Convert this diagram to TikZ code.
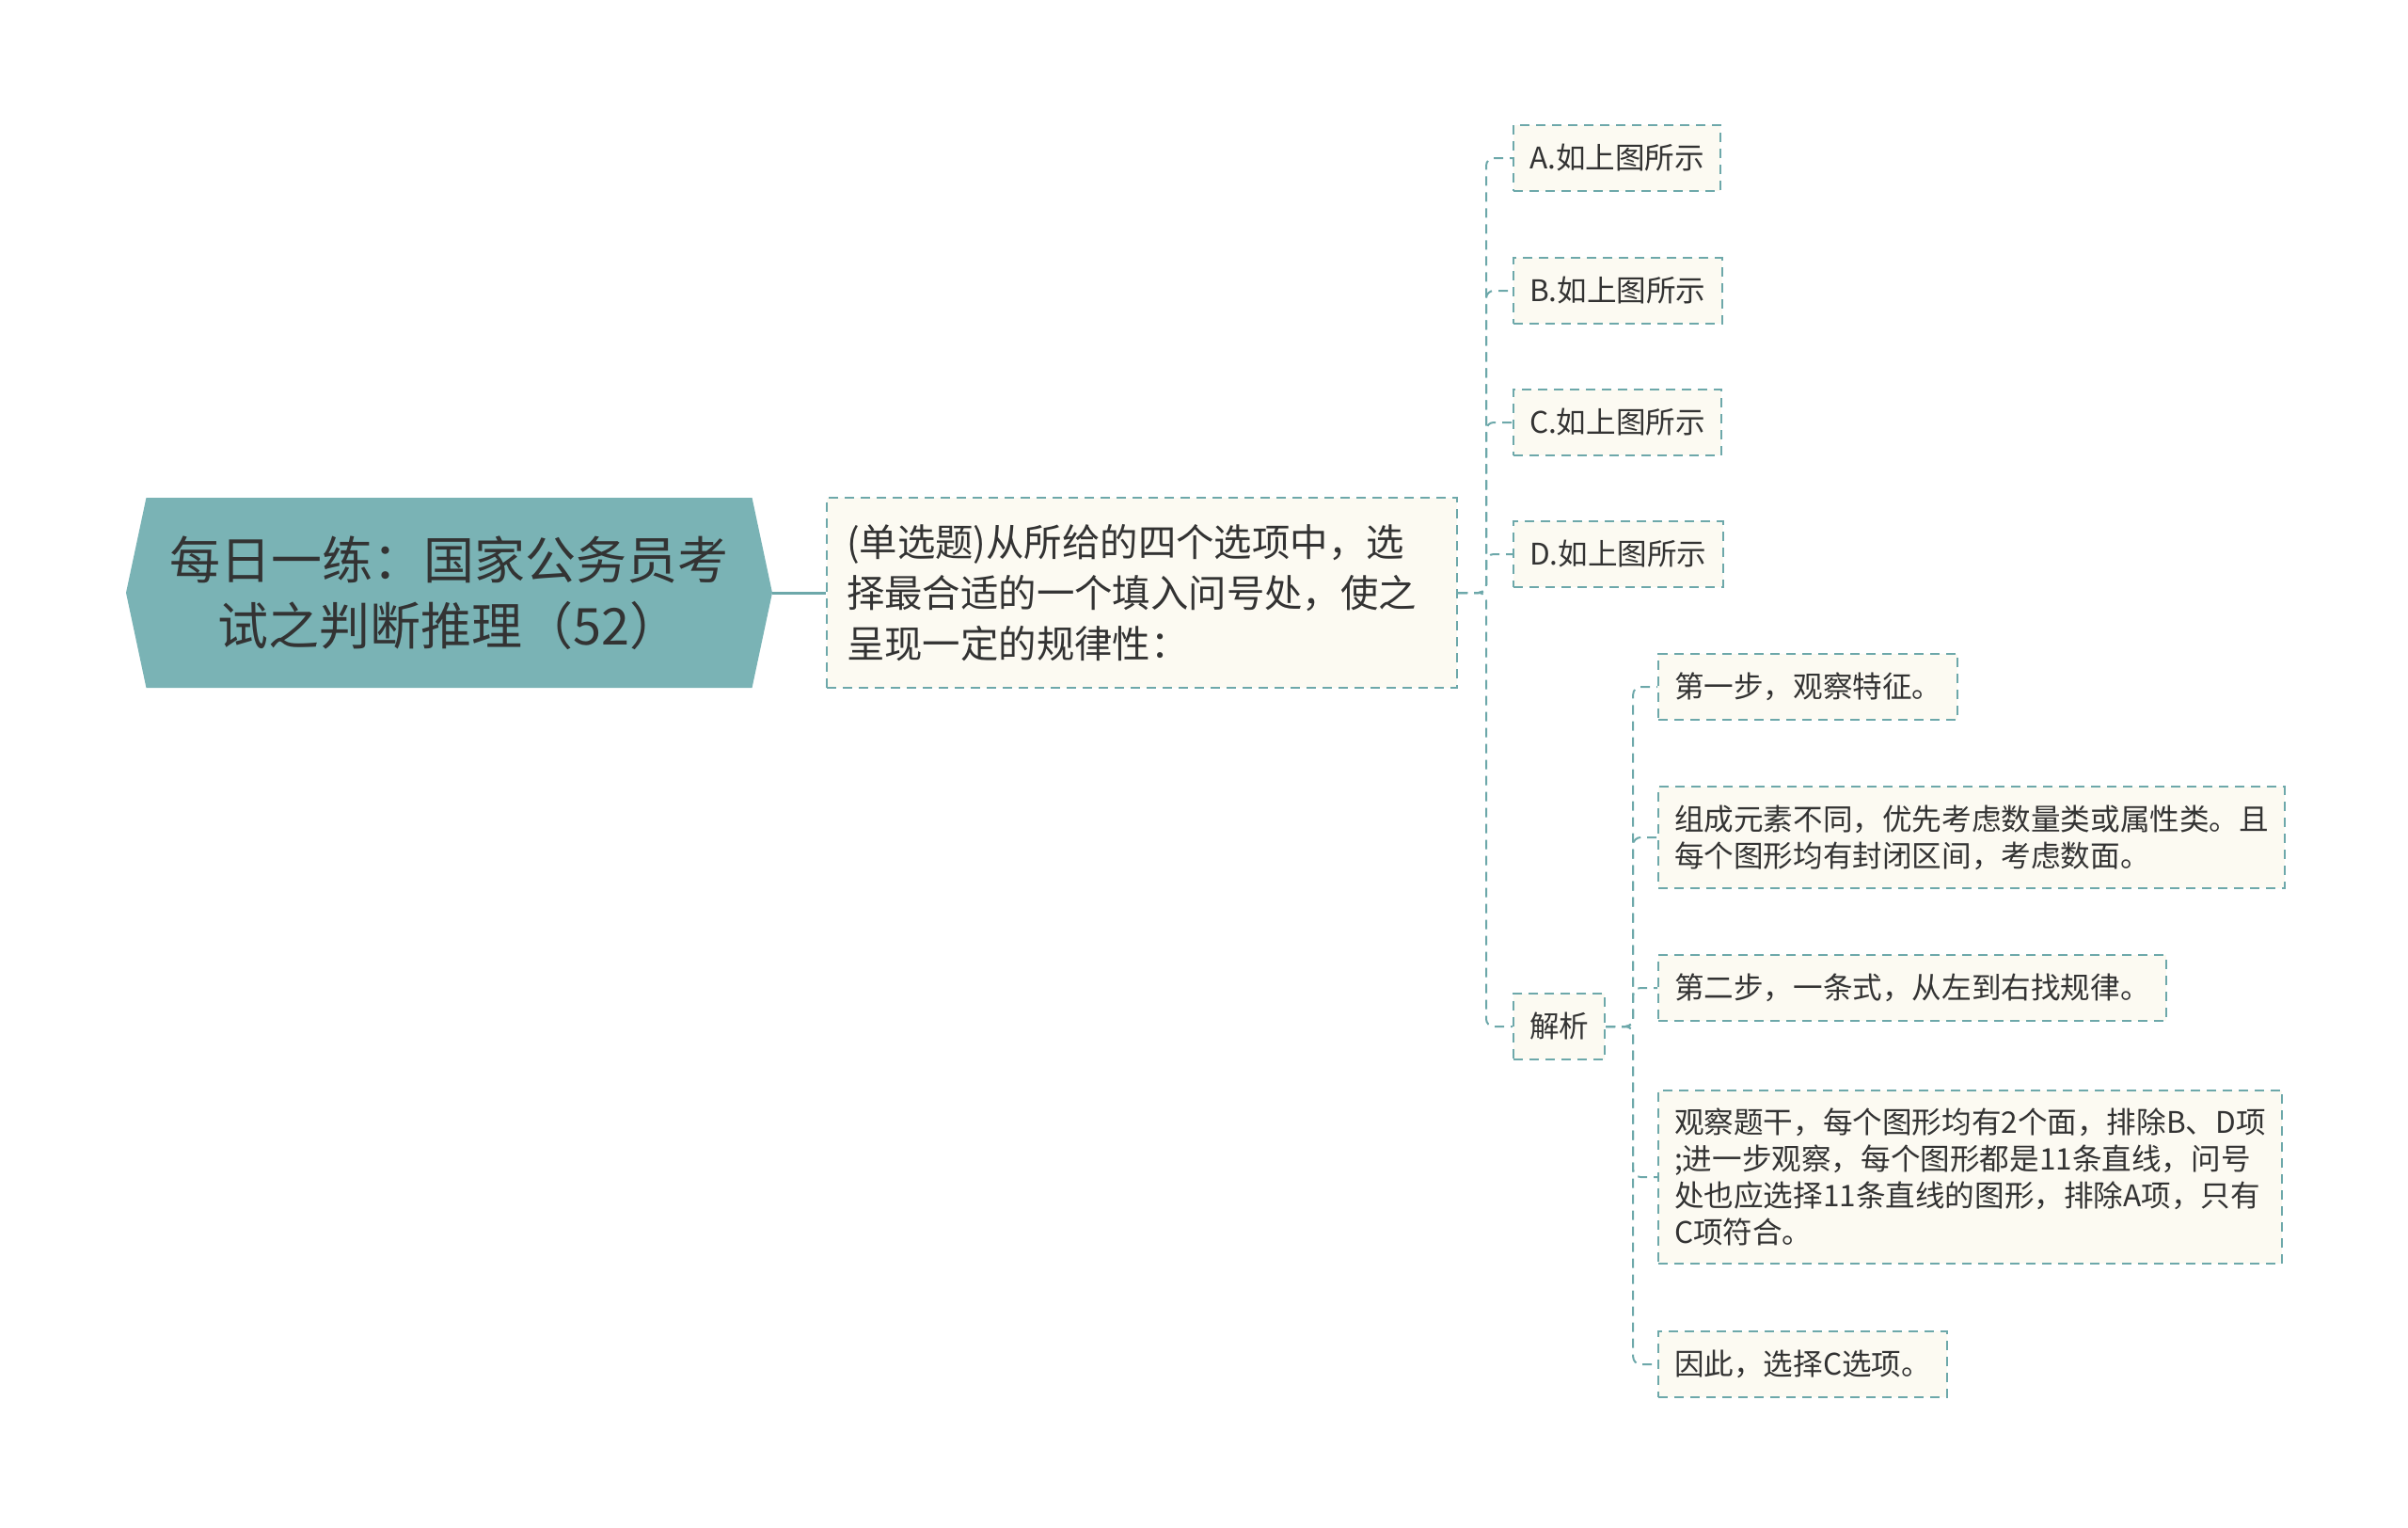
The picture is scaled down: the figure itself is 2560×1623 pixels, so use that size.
\documentclass[tikz,border=0pt]{standalone}
\usepackage{fontspec}
\setmainfont{Noto Sans CJK SC}
\usetikzlibrary{shapes.symbols}

\definecolor{rootcol}{HTML}{7AB3B5}
\definecolor{linecol}{HTML}{6DA8AA}
\definecolor{boxcol}{HTML}{FCFAF2}
\definecolor{textcol}{HTML}{333333}

\begin{document}
\begin{tikzpicture}[x=0.5pt,y=-0.5pt]
	\tikzstyle{root} = [shape=signal, signal to=west and east, signal pointer angle=156, fill=rootcol, text=textcol, align=center, minimum width=343.5pt, minimum height=101pt, inner sep=0pt, font=\fontsize{27}{35}\selectfont]
	\tikzstyle{question} = [anchor=west, draw=linecol, line width=1pt, dash pattern=on 5pt off 3.5pt, fill=boxcol, text=textcol, align=left, text width=314pt, minimum height=101pt, inner xsep=10.5pt, font=\fontsize{20.2}{27}\selectfont]
	\tikzstyle{topic} = [anchor=west, draw=linecol, line width=1pt, dash pattern=on 5pt off 3.5pt, fill=boxcol, text=textcol, align=left, inner xsep=8.5pt, inner ysep=9.5pt, minimum height=35pt, font=\fontsize{15.8}{19.6}\selectfont]
	\tikzstyle{link} = [draw=linecol, line width=1pt, dash pattern=on 5pt off 3.5pt, rounded corners=4pt]

	\useasboundingbox (0,0) rectangle (2560,1623);

	\node[root] (root) at (477.5,630) {每日一练：国家公务员考\\试之判断推理（52）};
	\node[question] (q) at (878,630) {(单选题)从所给的四个选项中，选\\择最合适的一个填入问号处，使之\\呈现一定的规律性：};

	\node[topic] (optA) at (1608,168) {A.如上图所示};
	\node[topic] (optB) at (1608,309) {B.如上图所示};
	\node[topic] (optC) at (1608,449) {C.如上图所示};
	\node[topic] (optD) at (1608,589) {D.如上图所示};
	\node[topic] (jx) at (1608,1091) {解析};

	\node[topic] (step1) at (1762,730) {第一步，观察特征。};
	\node[topic] (step2) at (1762,890) {组成元素不同，优先考虑数量类或属性类。且\\每个图形均有封闭区间，考虑数面。};
	\node[topic] (step3) at (1762,1050) {第二步，一条式，从左到右找规律。};
	\node[topic] (step4) at (1762,1251) {观察题干，每个图形均有2个面，排除B、D项\\;进一步观察，每个图形都是11条直线，问号\\处也应选择11条直线的图形，排除A项，只有\\C项符合。};
	\node[topic] (step5) at (1762,1450) {因此，选择C选项。};

	\draw[linecol, line width=1.5pt] (root.east) -- (q.west);

	\foreach \n in {optA,optB,optC,optD,jx}
		\draw[link] (q.east) -- ++(30,0) |- (\n.west);
	\foreach \n in {step1,step2,step3,step4,step5}
		\draw[link] (jx.east) -- ++(29,0) |- (\n.west);
\end{tikzpicture}
\end{document}
